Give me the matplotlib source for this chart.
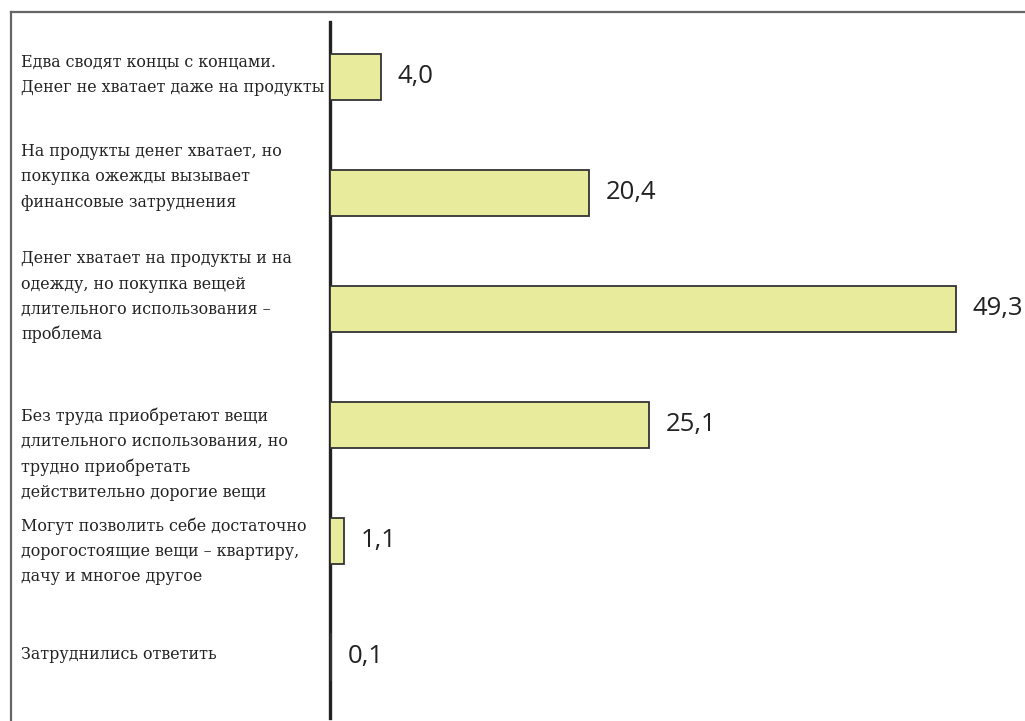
import matplotlib
matplotlib.use('Agg')
import matplotlib.pyplot as plt
from matplotlib.lines import Line2D
from matplotlib import transforms

categories = [
    'Едва сводят концы с концами.\nДенег не хватает даже на продукты',
    'На продукты денег хватает, но\nпокупка ожежды вызывает\nфинансовые затруднения',
    'Денег хватает на продукты и на\nодежду, но покупка вещей\nдлительного использования –\nпроблема',
    'Без труда приобретают вещи\nдлительного использования, но\nтрудно приобретать\nдействительно дорогие вещи',
    'Могут позволить себе достаточно\nдорогостоящие вещи – квартиру,\nдачу и многое другое',
    'Затруднились ответить',
]
values = [4.0, 20.4, 49.3, 25.1, 1.1, 0.1]

# small vertical nudges of the category labels (pixels, + = down)
label_shift = [2, 16, 12, -29, -10, 2]

W, H = 1025, 721
fig = plt.figure(figsize=(W / 100, H / 100), dpi=100)
ax = fig.add_axes([330 / W, (H - 718) / H, (W - 330) / W, (718 - 22) / H])

pos = list(range(len(values)))
ax.barh(pos, values, height=0.4, color='#e8ea9c', edgecolor='#333333',
        linewidth=1.3, zorder=3)

ax.set_xlim(0, (W - 330) / 12.7)
ax.set_ylim(5.526, -0.474)
for s in ['top', 'right', 'bottom']:
    ax.spines[s].set_visible(False)
ax.spines['left'].set_linewidth(2.4)
ax.spines['left'].set_color('#222222')
ax.set_xticks([])
ax.set_yticks([])

for p, v in zip(pos, values):
    ax.annotate(f'{v:.1f}'.replace('.', ','), (v, p), xytext=(12, 0),
                textcoords='offset points', va='center', ha='left',
                fontsize=18.5, family='Open Sans', color='#222222')

blend = transforms.blended_transform_factory(fig.transFigure, ax.transData)
for p, lab, sh in zip(pos, categories, label_shift):
    tr = blend + transforms.ScaledTranslation(0, sh / 100, fig.dpi_scale_trans)
    ax.text(21 / W, p, lab, transform=tr, ha='left', va='center',
            fontsize=11.4, family='DejaVu Serif', color='#222222',
            linespacing=1.62, clip_on=False)

# frame around the chart (top and left only)
fig.add_artist(Line2D([11 / W, 11 / W], [0, 1 - 11.5 / H], transform=fig.transFigure,
                      color='#666666', lw=1.6))
fig.add_artist(Line2D([11 / W, 1], [1 - 11.5 / H, 1 - 11.5 / H], transform=fig.transFigure,
                      color='#666666', lw=1.6))

fig.savefig('out.png', dpi=100)
